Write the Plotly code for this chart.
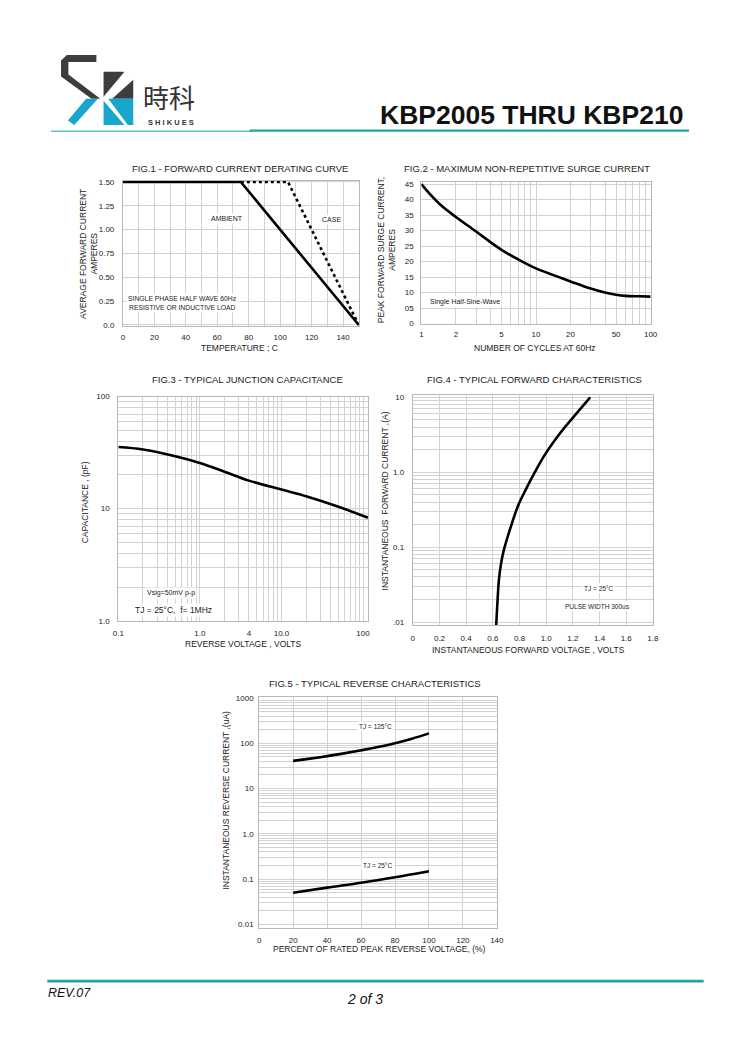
import plotly.graph_objects as go

W, H = 750, 1061

# ---- data ----
# Fig.1 forward current derating (deg C, A)
fig1_ambient_t = [0, 75, 150]
fig1_ambient_a = [1.5, 1.5, 0.0]
fig1_case_t = [75, 105, 150]
fig1_case_a = [1.5, 1.5, 0.0]
fig1_yticks = [0, 0.25, 0.5, 0.75, 1.0, 1.25, 1.5]
fig1_ylabels = ["0.0", "0.25", "0.50", "0.75", "1.00", "1.25", "1.50"]

# Fig.2 surge current (cycles, A)
fig2_cycles = [1, 1.2, 1.5, 2, 3, 4, 5, 7, 10, 15, 20, 30, 40, 50, 60, 80, 100]
fig2_amps = [45, 41.6, 38, 34.4, 29.7, 26.3, 23.8, 20.7, 17.8, 15.3, 13.6, 11.3, 10.0, 9.3, 8.95, 8.8, 8.7]
fig2_xlabels = {1: "1", 2: "2", 5: "5", 10: "10", 20: "20", 50: "50", 100: "100"}
fig2_yticks = [0, 5, 10, 15, 20, 25, 30, 35, 40, 45]
fig2_ylabels = ["0", "05", "10", "15", "20", "25", "30", "35", "40", "45"]

# Fig.3 junction capacitance (V, pF)
fig3_volts = [0.1, 0.2, 0.5, 1, 2, 4, 10, 20, 50, 115]
fig3_pf = [35.5, 33.8, 29.4, 25.6, 21.4, 17.8, 14.8, 12.9, 10.4, 8.3]
fig3_xlabels = {0.1: "0.1", 1: "1.0", 4: "4", 10: "10.0", 100: "100"}
fig3_ylabels = {1: "1.0", 10: "10", 100: "100"}

# Fig.4 forward characteristics (V, A)
fig4_volts = [0.625, 0.634, 0.645, 0.66, 0.681, 0.74, 0.792, 0.846, 0.915, 0.988, 1.111, 1.234, 1.33]
fig4_amps = [0.0091, 0.0178, 0.0356, 0.058, 0.089, 0.2, 0.368, 0.58, 1.0, 1.69, 3.44, 6.3, 10.0]
fig4_xticks = [0, 0.2, 0.4, 0.6, 0.8, 1.0, 1.2, 1.4, 1.6, 1.8]
fig4_xlabels = ["0", "0.2", "0.4", "0.6", "0.8", "1.0", "1.2", "1.4", "1.6", "1.8"]
fig4_ylabels = {0.01: ".01", 0.1: "0.1", 1: "1.0", 10: "10"}

# Fig.5 reverse characteristics (% of VRRM, uA)
fig5_pct_125 = [20, 30, 40, 50, 60, 70, 80, 90, 100]
fig5_ua_125 = [41, 46, 52.2, 60, 70, 83, 101, 127, 166]
fig5_pct_25 = [20, 40, 60, 80, 100]
fig5_ua_25 = [0.05, 0.065, 0.083, 0.11, 0.15]
fig5_xticks = [0, 20, 40, 60, 80, 100, 120, 140]
fig5_ylabels = {0.01: "0.01", 0.1: "0.1", 1: "1.0", 10: "10", 100: "100", 1000: "1000"}

FONT = "Liberation Sans, Arial, sans-serif"
GRID = "#d2d2d2"
FRAME = "#b8b8b8"
TEAL = "#1ca6a4"


def px(x):
    return x / W


def py(y):
    return 1 - y / H


def xdom(a, b):
    return [px(a), px(b)]


def ydom(top, bottom):
    return [py(bottom), py(top)]


def log_grid(lo, hi):
    vals = [m * 10 ** e for e in range(lo, hi) for m in range(1, 10)]
    return vals + [10 ** hi]


def labels_for(vals, lookup):
    out = []
    for v in vals:
        key = next((k for k in lookup if abs(k - v) < 1e-9 * max(1, k)), None)
        out.append(lookup[key] if key is not None else "")
    return out


def axis(domain, anchor, standoff, **kw):
    base = dict(
        domain=domain, anchor=anchor, showgrid=True, gridcolor=GRID, gridwidth=1,
        zeroline=False, showline=True, linecolor=FRAME, linewidth=1, mirror=True,
        ticks="", ticklabelstandoff=standoff, fixedrange=True,
        tickfont=dict(family=FONT, size=8, color="#222"),
    )
    base.update(kw)
    return base


line = dict(color="black", width=2.6)
smooth = dict(color="black", width=2.6, shape="spline", smoothing=1.0)
fig = go.Figure()
fig.add_trace(go.Scatter(x=fig1_ambient_t, y=fig1_ambient_a, mode="lines", line=line, xaxis="x", yaxis="y"))
fig.add_trace(go.Scatter(x=fig1_case_t, y=fig1_case_a, mode="lines",
                         line=dict(color="black", width=2.6, dash="dot"), xaxis="x", yaxis="y"))
fig.add_trace(go.Scatter(x=fig2_cycles, y=fig2_amps, mode="lines", line=smooth, xaxis="x2", yaxis="y2"))
fig.add_trace(go.Scatter(x=fig3_volts, y=fig3_pf, mode="lines", line=smooth, xaxis="x3", yaxis="y3"))
fig.add_trace(go.Scatter(x=fig4_volts, y=fig4_amps, mode="lines", line=smooth, xaxis="x4", yaxis="y4"))
fig.add_trace(go.Scatter(x=fig5_pct_125, y=fig5_ua_125, mode="lines", line=smooth, xaxis="x5", yaxis="y5"))
fig.add_trace(go.Scatter(x=fig5_pct_25, y=fig5_ua_25, mode="lines", line=smooth, xaxis="x5", yaxis="y5"))

fig1_xticks = list(range(0, 151, 10))
fig1_xlabels = [str(v) if v % 20 == 0 and v <= 140 else "" for v in fig1_xticks]
fig2_xticks = log_grid(0, 2)
fig3_xticks = log_grid(-1, 2)
fig3_yticks = log_grid(0, 2)
fig4_yticks = log_grid(-2, 1)
fig5_yticks = log_grid(-2, 3)

fig.update_layout(
    width=W, height=H, margin=dict(l=0, r=0, t=0, b=0),
    paper_bgcolor="white", plot_bgcolor="white", showlegend=False,
    font=dict(family=FONT, color="#222"),
    xaxis=axis(xdom(119, 359), "y", 3, range=[0, 150], tickmode="array",
               tickvals=fig1_xticks, ticktext=fig1_xlabels),
    yaxis=axis(ydom(178.3, 324.9), "x", 6, range=[-0.012, 1.512], tickmode="array",
               tickvals=fig1_yticks, ticktext=fig1_ylabels),
    xaxis2=axis(xdom(422.7, 656), "y2", 3, type="log", range=[0, 2], tickmode="array",
                tickvals=fig2_xticks, ticktext=labels_for(fig2_xticks, fig2_xlabels)),
    yaxis2=axis(ydom(179.8, 322.3), "x2", 5, range=[0, 45.6], tickmode="array",
                tickvals=fig2_yticks, ticktext=fig2_ylabels),
    xaxis3=axis(xdom(114.3, 368.3), "y3", 5, type="log", range=[-1, 2.06], tickmode="array",
                tickvals=fig3_xticks, ticktext=labels_for(fig3_xticks, fig3_xlabels)),
    yaxis3=axis(ydom(396, 622), "x3", 6, type="log", range=[0, 2], tickmode="array",
                tickvals=fig3_yticks, ticktext=labels_for(fig3_yticks, fig3_ylabels)),
    xaxis4=axis(xdom(414, 658.3), "y4", 5, range=[0, 1.8], tickmode="array",
                tickvals=fig4_xticks, ticktext=fig4_xlabels),
    yaxis4=axis(ydom(394.3, 626.7), "x4", 6, type="log", range=[-2.045, 1.032], tickmode="array",
                tickvals=fig4_yticks, ticktext=labels_for(fig4_yticks, fig4_ylabels)),
    xaxis5=axis(xdom(257.7, 499.5), "y5", 5, range=[0, 140], tickmode="array",
                tickvals=fig5_xticks, ticktext=[str(v) for v in fig5_xticks]),
    yaxis5=axis(ydom(699, 931.7), "x5", 3, type="log", range=[-2.074, 3.022], tickmode="array",
                tickvals=fig5_yticks, ticktext=labels_for(fig5_yticks, fig5_ylabels)),
)

ann = []


def text(x, y, s, size=8.5, angle=0, anchor="center", bg=None, color="#222", family=FONT):
    d = dict(x=px(x), y=py(y), xref="paper", yref="paper", text=s, showarrow=False,
             xanchor=anchor, yanchor="middle", textangle=angle,
             font=dict(family=family, size=size, color=color))
    if bg:
        d.update(bgcolor=bg, borderpad=1)
    ann.append(d)


# chart titles
text(238, 165.5, "FIG.1 - FORWARD CURRENT DERATING CURVE", 9.5)
text(529.7, 165.5, "FIG.2 - MAXIMUM NON-REPETITIVE SURGE CURRENT", 9.5)
text(246, 378.3, "FIG.3 - TYPICAL JUNCTION CAPACITANCE", 9.5)
text(538.3, 378.3, "FIG.4 - TYPICAL FORWARD CHARACTERISTICS", 9.5)
text(375, 685, "FIG.5 - TYPICAL REVERSE CHARACTERISTICS", 9.5)

# axis titles
text(84.5, 252, "AVERAGE FORWARD CURRENT<br>AMPERES", 8.5, -90)
text(238, 346.7, "TEMPERATURE ; C", 8.5)
text(388, 248, "PEAK FORWARD SURGE CURRENT,<br>AMPERES", 8.5, -90)
text(538, 346.7, "NUMBER OF CYCLES AT 60Hz", 8.5)
text(80, 503, "CAPACITANCE , (pF)", 8.5, -90)
text(241.7, 645, "REVERSE VOLTAGE , VOLTS", 8.5)
text(385.7, 501.7, "INSTANTANEOUS  FORWARD CURRENT ,(A)", 8.5, -90)
text(531.7, 651.7, "INSTANTANEOUS FORWARD VOLTAGE , VOLTS", 8.5)
text(224, 803.3, "INSTANTANEOUS REVERSE CURRENT ,(uA)", 8.5, -90)
text(380, 953.3, "PERCENT OF RATED PEAK REVERSE VOLTAGE, (%)", 8.5)

# in-chart notes
text(225, 216, "AMBIENT", 7, bg="white")
text(331.7, 217, "CASE", 7, bg="white")
text(180, 296.7, "SINGLE PHASE HALF WAVE 60Hz", 6.8, bg="white")
text(180, 305.7, "RESISTIVE OR INDUCTIVE LOAD", 6.8, bg="white")
text(466.7, 300.7, "Single Half-Sine-Wave", 7, bg="white")
text(168.3, 594.3, "Vsig=50mV p-p", 7, bg="white")
text(170, 610.7, "TJ = 25°C,  f= 1MHz", 8.5, bg="white")
text(603.3, 590, "TJ = 25°C", 6.5, bg="white")
text(601.7, 607.3, "PULSE WIDTH 300us", 6.5, bg="white")
text(375.7, 728.3, "TJ = 125°C", 6.5, bg="white")
text(378.3, 869.3, "TJ = 25°C", 6.5, bg="white")

# header / footer
text(691, 111.7, "<b>KBP2005 THRU KBP210</b>", 26.5, anchor="right", color="#111")
text(166, 93.5, "時科", 26, color="#333", family="Noto Sans CJK TC")
text(167.5, 119.5, "<b>S H I K U E S</b>", 7.5, color="#333")
text(41, 997, "<i>REV.07</i>", 12.5, anchor="left", color="#111")
text(365, 1004, "<i>2 of 3</i>", 14, color="#111")

fig.update_layout(annotations=ann)


def poly(points, color):
    d = "M " + " L ".join(f"{px(x):.5f},{py(y):.5f}" for x, y in points) + " Z"
    return dict(type="path", path=d, xref="paper", yref="paper",
                fillcolor=color, line=dict(width=0), layer="above")


def hline(x0, x1, y, width, color):
    return dict(type="line", xref="paper", yref="paper", x0=px(x0), x1=px(x1),
                y0=py(y), y1=py(y), line=dict(color=color, width=width))


DARK = "#3d3d3d"
CYAN = "#19a6cc"
shapes = [
    poly([(92, 51.5), (62, 51.5), (56, 57), (56, 73), (87, 95.5), (96, 95.5),
          (63.5, 71), (63.5, 58.5), (92, 58.5)], DARK),
    poly([(81.5, 95.5), (93.5, 95.5), (69.5, 122), (63, 117.5)], CYAN),
    poly([(99.3, 68.3), (120.5, 68.3), (99.3, 93.5)], DARK),
    poly([(129.5, 76.5), (129.5, 95.5), (108, 95.5)], DARK),
    poly([(99.3, 97.5), (99.3, 122), (120.5, 122)], CYAN),
    poly([(104, 95.5), (129.5, 95.5), (129.5, 122), (124, 122)], CYAN),
    hline(46, 250, 128.3, 1.5, "#5cc4c0"),
    hline(248, 695, 127.7, 2.4, TEAL),
    hline(42, 710, 985.5, 2.6, TEAL),
]
fig.update_layout(shapes=shapes)

# page body has an 8px default margin; drop it so the figure sits at the page origin
fig.write_html("out.html", config={"displayModeBar": False},
               post_script="document.body.style.margin='0';")
